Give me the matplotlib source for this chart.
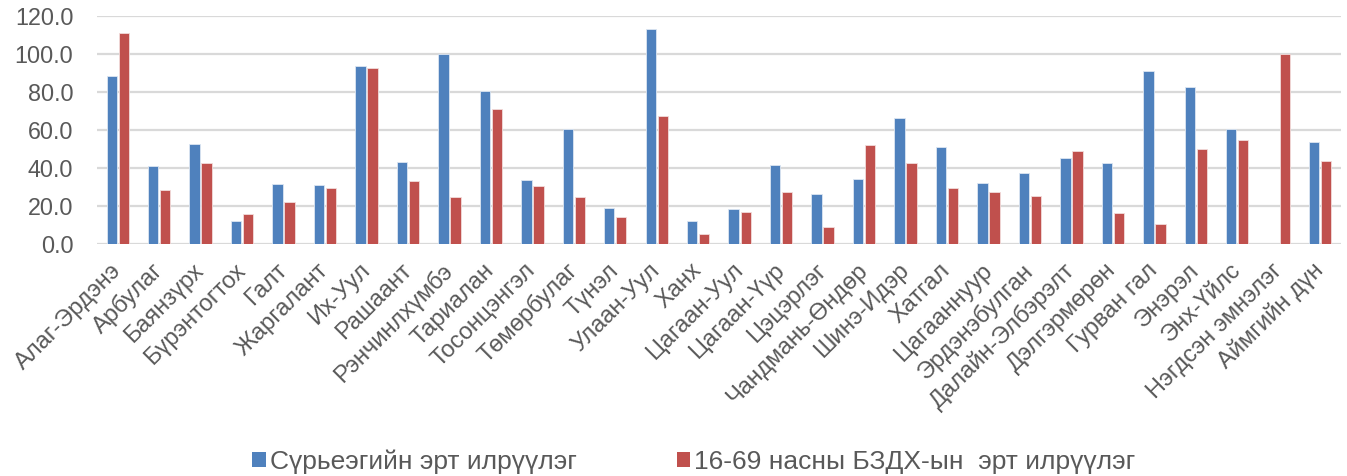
import matplotlib
matplotlib.use("Agg")
import matplotlib.pyplot as plt
import numpy as np
from matplotlib.patches import Patch

categories = ["Алаг-Эрдэнэ", "Арбулаг", "Баянзүрх", "Бүрэнтогтох", "Галт", "Жаргалант",
              "Их-Уул", "Рашаант", "Рэнчинлхүмбэ", "Тариалан", "Тосонцэнгэл", "Төмөрбулаг",
              "Түнэл", "Улаан-Уул", "Ханх", "Цагаан-Уул", "Цагаан-Үүр", "Цэцэрлэг",
              "Чандмань-Өндөр", "Шинэ-Идэр", "Хатгал", "Цагааннуур", "Эрдэнэбулган",
              "Далайн-Элбэрэлт", "Дэлгэрмөрөн", "Гурван гал", "Энэрэл", "Энх-Үйлс",
              "Нэгдсэн эмнэлэг", "Аймгийн дүн"]
tb = [88.2, 41.1, 52.5, 12.2, 31.5, 31.0, 93.6, 43.2, 100.0, 80.5, 33.8, 60.5,
      19.2, 113.0, 12.1, 18.5, 41.5, 26.4, 34.1, 66.1, 50.9, 32.0, 37.4,
      45.5, 42.5, 91.2, 82.4, 60.5, 0.0, 53.5]
std = [110.8, 28.7, 42.9, 15.9, 22.4, 29.4, 92.4, 33.4, 24.7, 70.9, 30.8, 25.0,
       14.3, 67.4, 5.6, 17.0, 27.3, 9.3, 52.0, 42.5, 29.7, 27.6, 25.4,
       48.8, 16.3, 10.5, 50.2, 54.6, 100.0, 43.7]
series_names = ["Сүрьеэгийн эрт илрүүлэг", "16-69 насны БЗДХ-ын  эрт илрүүлэг"]
yticks = [0, 20, 40, 60, 80, 100, 120]

blue = "#4F81BD"
red = "#C0504D"
txt = "#595959"

plt.rcParams['font.family'] = ['Liberation Sans', 'DejaVu Sans']

fig = plt.figure(figsize=(13.47, 4.76), dpi=100)
ax = fig.add_axes([0.072, 0.4868, 0.9235, 0.4802])

x = np.arange(len(categories))
w = 0.25
off = 0.145
ax.bar(x - off, tb, width=w, color=blue, edgecolor="#DCE6F2", linewidth=0.6, zorder=3)
ax.bar(x + off, std, width=w, color=red, edgecolor="#F2DCDB", linewidth=0.6, zorder=3)

ax.set_xlim(-0.5, len(categories) - 0.5)
ax.set_ylim(0, 120)
ax.set_yticks(yticks)
ax.set_yticklabels([f"{v:.1f}" for v in yticks], fontsize=16.8, color=txt)
ax.yaxis.grid(True, color="#D9D9D9", linewidth=1.6, zorder=0)
ax.set_axisbelow(True)
for s in ax.spines.values():
    s.set_visible(False)
ax.tick_params(axis='y', length=0, pad=17)
ax.tick_params(axis='x', length=0, pad=16.5)
ax.set_xticks(x)
ax.set_xticklabels(categories, rotation=45, ha='right', va='center',
                   rotation_mode='anchor', fontsize=17, color=txt)

handles = [Patch(facecolor=blue), Patch(facecolor=red)]
fig.legend(handles, series_names, loc='lower center', bbox_to_anchor=(0.515, -0.045),
           ncol=2, frameon=False, fontsize=19, labelcolor=txt,
           handlelength=0.5, handleheight=0.5, handletextpad=0.15, columnspacing=3.8)

fig.savefig("out.png", dpi=100)
